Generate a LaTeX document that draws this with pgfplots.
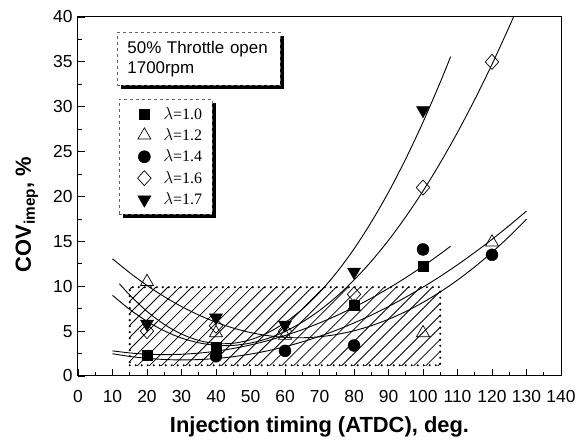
\documentclass[border=0pt]{standalone}
\usepackage{pgfplots}
\pgfplotsset{compat=1.18}
\usepackage{fontspec}
\setmainfont{Liberation Sans}
\newfontfamily\seriffont{Liberation Serif}
\usetikzlibrary{patterns.meta,shadows}

\begin{document}
\begin{tikzpicture}[x=1bp,y=1bp]
\path[use as bounding box] (-78,-67) rectangle (508,376);
\begin{axis}[
  at={(0,0)}, anchor=south west,
  scale only axis, width=483bp, height=359bp,
  xmin=0, xmax=140, ymin=0, ymax=40,
  xtick={0,10,...,140}, ytick={0,5,...,40},
  minor x tick num=1, minor y tick num=1,
  tick align=inside, tick pos=left,
  major tick length=7bp, minor tick length=4bp,
  tick style={line width=0.8bp, black},
  axis line style={line width=1bp},
  ticklabel style={font=\fontsize{17.5}{20}\selectfont},
  xticklabel style={yshift=-11bp},
  yticklabel style={xshift=-2bp},
  /pgf/number format/assume math mode=true,
  xlabel={Injection timing (ATDC), deg.},
  ylabel={COV\textsubscript{imep}, \%},
  label style={font=\fontsize{22}{25}\selectfont\bfseries},
  xlabel style={at={(axis description cs:0.5,-0.143)}, anchor=center},
  ylabel style={at={(axis description cs:-0.106,0.45)}, anchor=center},
  legend cell align=left,
  legend image code/.code={
    \pgfpathrectangle{\pgfpoint{-0.3cm}{-0.1cm}}{\pgfpoint{1.2cm}{0.2cm}}%
    \pgfusepath{discard}%
    \draw[#1] plot coordinates {(0.3cm,0cm)};},
  legend style={at={(rel axis cs:0.085,0.772)}, anchor=north west,
    draw=black!60, dashed, line width=0.6bp, fill=white,
    drop shadow={shadow xshift=4bp, shadow yshift=-4bp, opacity=1, fill=black},
    font=\seriffont\fontsize{16}{18}\selectfont,
    row sep=4bp, inner xsep=8bp, inner ysep=6bp},
  every axis plot/.append style={mark options={solid}},
]

% operating window: hatched region with a dotted border
\addplot[draw=none, pattern={Lines[angle=45, distance=8.5bp, line width=0.8bp]}, forget plot]
  coordinates {(15,1.2) (105,1.2) (105,9.9) (15,9.9)} -- cycle;
\addplot[black, line width=2.4bp, line cap=round, dash pattern=on 0bp off 6bp, forget plot]
  coordinates {(15,1.2) (105,1.2) (105,9.9) (15,9.9) (15,1.2)};

% fitted trend lines
\addplot[black, line width=0.9bp, smooth, forget plot] coordinates {
  (10,2.80) (15,2.57) (20,2.43) (25,2.38) (30,2.42) (35,2.55) (40,2.76) (45,3.07)
  (50,3.46) (55,3.94) (60,4.51) (65,5.16) (70,5.91) (75,6.74) (80,7.66) (85,8.67)
  (90,9.77) (95,10.96) (100,12.23) (105,13.60) (108,14.46)};
\addplot[black, line width=0.9bp, smooth, forget plot] coordinates {
  (10,13.06) (15,11.50) (20,10.09) (25,8.84) (30,7.74) (35,6.79) (40,5.99) (45,5.34)
  (50,4.84) (55,4.50) (60,4.30) (65,4.26) (70,4.37) (75,4.63) (80,5.04) (85,5.60)
  (90,6.32) (95,7.18) (100,8.20) (105,9.37) (110,10.69) (115,12.16) (120,13.78)
  (125,15.55) (130,17.48)};
\addplot[black, line width=0.9bp, smooth, forget plot] coordinates {
  (10,2.48) (15,2.18) (20,1.97) (25,1.84) (30,1.79) (35,1.83) (40,1.95) (45,2.15)
  (50,2.44) (55,2.81) (60,3.26) (65,3.80) (70,4.42) (75,5.12) (80,5.91) (85,6.78)
  (90,7.74) (95,8.78) (100,9.90) (105,11.10) (110,12.39) (115,13.77) (120,15.22)
  (125,16.76) (130,18.38)};
\addplot[black, line width=0.9bp, smooth, forget plot] coordinates {
  (10,8.99) (15,7.41) (20,6.09) (25,5.03) (30,4.23) (35,3.70) (40,3.42) (45,3.41)
  (50,3.67) (55,4.18) (60,4.96) (65,6.00) (70,7.30) (75,8.86) (80,10.69) (85,12.77)
  (90,15.12) (95,17.74) (100,20.61) (105,23.75) (110,27.15) (115,30.81) (120,34.73)
  (125,38.92) (126.2,40.0)};
\addplot[black, line width=0.9bp, smooth, forget plot] coordinates {
  (12,10.28) (15,9.02) (20,7.20) (25,5.75) (30,4.67) (35,3.96) (40,3.62) (45,3.65)
  (50,4.04) (55,4.81) (60,5.94) (65,7.44) (70,9.31) (75,11.55) (80,14.16) (85,17.14)
  (90,20.48) (95,24.20) (100,28.28) (105,32.73) (108,35.58)};

% measured points
\addplot[only marks, mark=square*, mark size=5bp, mark options={fill=black, draw=black}]
  coordinates {(20,2.3) (40,3.2) (80,7.9) (100,12.2)};
\addlegendentry{$\lambda$=1.0}
\addplot[only marks, mark=triangle, mark size=7.5bp, mark options={fill=white, draw=black, line width=0.7bp}]
  coordinates {(20,10.5) (40,4.8) (60,4.5) (80,7.7) (100,4.8) (120,14.9)};
\addlegendentry{$\lambda$=1.2}
\addplot[only marks, mark=*, mark size=6bp, mark options={fill=black, draw=black}]
  coordinates {(40,2.2) (60,2.8) (80,3.4) (100,14.1) (120,13.5)};
\addlegendentry{$\lambda$=1.4}
\addplot[only marks, mark=diamond, mark size=7.5bp, mark options={fill=white, draw=black, line width=0.7bp, xscale=1.2}]
  coordinates {(20,5.0) (40,5.6) (60,5.0) (80,9.1) (100,21.0) (120,35.0)};
\addlegendentry{$\lambda$=1.6}
\addplot[only marks, mark=triangle*, mark size=7.5bp, mark options={fill=black, draw=black, rotate=180}]
  coordinates {(20,5.8) (40,6.5) (60,5.7) (80,11.6) (100,29.6)};
\addlegendentry{$\lambda$=1.7}

% operating condition note
\node[draw=black!60, dashed, line width=0.6bp, fill=white, anchor=north west,
  align=left, text width=143bp, inner xsep=10bp, inner ysep=6bp, minimum height=53bp,
  font=\fontsize{17}{20}\selectfont,
  drop shadow={shadow xshift=4bp, shadow yshift=-4bp, opacity=1, fill=black}]
  at (rel axis cs:0.081,0.958) {50\% Throttle open\\1700rpm};
\end{axis}
\end{tikzpicture}
\end{document}
